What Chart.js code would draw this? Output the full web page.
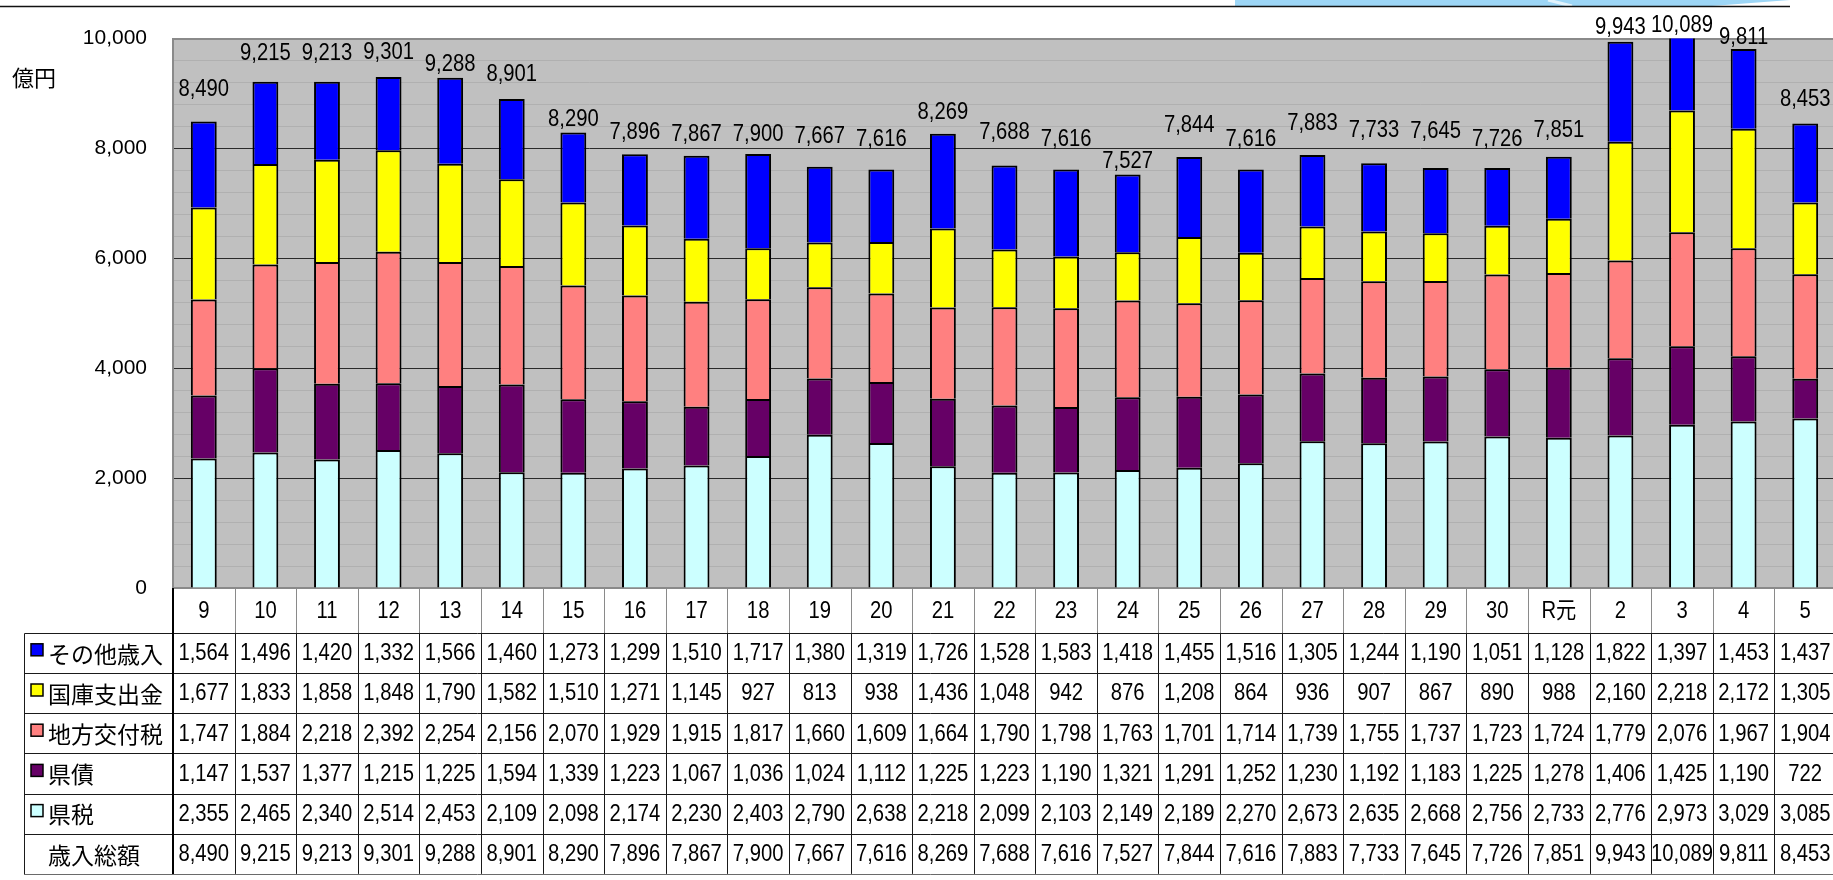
<!DOCTYPE html>
<html lang="ja">
<head>
<meta charset="utf-8">
<title>歳入の推移</title>
<script src="https://cdn.jsdelivr.net/npm/chart.js@4.4.1/dist/chart.umd.min.js"></script>
<style>
  html, body { margin: 0; padding: 0; background: #fff; overflow: hidden; width: 1833px; height: 880px; }
  canvas { display: block; }
</style>
</head>
<body>
<canvas id="revenueChart" width="1836" height="880"></canvas>
<script>
// 年度
const categories = ['9', '10', '11', '12', '13', '14', '15', '16', '17', '18', '19', '20', '21', '22',
  '23', '24', '25', '26', '27', '28', '29', '30', 'R元', '2', '3', '4', '5'];

// 歳入の内訳（億円）
const otherRevenue = [1564, 1496, 1420, 1332, 1566, 1460, 1273, 1299, 1510, 1717, 1380, 1319, 1726, 1528,
  1583, 1418, 1455, 1516, 1305, 1244, 1190, 1051, 1128, 1822, 1397, 1453, 1437];
const treasuryGrants = [1677, 1833, 1858, 1848, 1790, 1582, 1510, 1271, 1145, 927, 813, 938, 1436, 1048,
  942, 876, 1208, 864, 936, 907, 867, 890, 988, 2160, 2218, 2172, 1305];
const localAllocationTax = [1747, 1884, 2218, 2392, 2254, 2156, 2070, 1929, 1915, 1817, 1660, 1609, 1664, 1790,
  1798, 1763, 1701, 1714, 1739, 1755, 1737, 1723, 1724, 1779, 2076, 1967, 1904];
const prefBonds = [1147, 1537, 1377, 1215, 1225, 1594, 1339, 1223, 1067, 1036, 1024, 1112, 1225, 1223,
  1190, 1321, 1291, 1252, 1230, 1192, 1183, 1225, 1278, 1406, 1425, 1190, 722];
const prefTax = [2355, 2465, 2340, 2514, 2453, 2109, 2098, 2174, 2230, 2403, 2790, 2638, 2218, 2099,
  2103, 2149, 2189, 2270, 2673, 2635, 2668, 2756, 2733, 2776, 2973, 3029, 3085];
const totalRevenue = [8490, 9215, 9213, 9301, 9288, 8901, 8290, 7896, 7867, 7900, 7667, 7616, 8269, 7688,
  7616, 7527, 7844, 7616, 7883, 7733, 7645, 7726, 7851, 9943, 10089, 9811, 8453];

// 縦軸
const yMax = 10000;
const yMajorStep = 2000;
const yMinorStep = 400;
const yUnit = '億円';

// 総額ラベルを棒の上へ持ち上げる量（px）
const totalLabelLift = [32, 28, 28, 24, 13, 24, 13, 21.5, 21, 19, 30, 29.5, 21, 32.7, 29.5, 13.3, 31.8,
  29.5, 31, 32, 36, 24, 26.5, 14, 8, 11, 24];

const fmt = v => v.toLocaleString('en-US');
const NUM_FONT = '23px "Liberation Sans", "Noto Sans CJK JP", sans-serif';
const JP_FONT = '23px "Noto Sans CJK JP", sans-serif';

// 縦長の数字を描くための横圧縮テキスト
function narrowText(ctx, text, x, y, align) {
  ctx.save();
  ctx.translate(x, y);
  ctx.scale(0.88, 1);
  ctx.textAlign = align || 'center';
  ctx.textBaseline = 'middle';
  ctx.fillText(text, 0, 0);
  ctx.restore();
}

// 表の行（上から）
const tableRows = [
  { name: 'その他歳入', values: otherRevenue, color: '#0000FF' },
  { name: '国庫支出金', values: treasuryGrants, color: '#FFFF00' },
  { name: '地方交付税', values: localAllocationTax, color: '#FF8080' },
  { name: '県債', values: prefBonds, color: '#660066' },
  { name: '県税', values: prefTax, color: '#CCFFFF' },
  { name: '歳入総額', values: totalRevenue, color: null }
];

const pageBackground = {
  id: 'pageBackground',
  beforeDraw(chart) {
    const { ctx, chartArea: a } = chart;
    ctx.save();
    ctx.fillStyle = '#ffffff';
    ctx.fillRect(0, 0, chart.width, chart.height);
    // 上部の飾り帯
    ctx.fillStyle = '#9dd6f6';
    ctx.beginPath();
    ctx.moveTo(1235, 0);
    ctx.lineTo(1790, 0);
    ctx.lineTo(1712, 6);
    ctx.lineTo(1235, 6);
    ctx.closePath();
    ctx.fill();
    ctx.strokeStyle = 'rgba(255,255,255,0.7)';
    ctx.lineWidth = 3;
    ctx.beginPath();
    ctx.moveTo(1548, 0);
    ctx.lineTo(1572, 6);
    ctx.stroke();
    ctx.strokeStyle = '#111';
    ctx.lineWidth = 1.5;
    ctx.beginPath();
    ctx.moveTo(0, 6.5);
    ctx.lineTo(1790, 6.5);
    ctx.stroke();
    // 描画領域の背景
    ctx.fillStyle = '#c0c0c0';
    ctx.fillRect(a.left, a.top, a.right - a.left, a.bottom - a.top);
    // 単位
    ctx.fillStyle = '#000';
    ctx.font = '22px "Noto Sans CJK JP", sans-serif';
    ctx.textAlign = 'left';
    ctx.textBaseline = 'middle';
    ctx.fillText(yUnit, 12, 78);
    ctx.restore();
  }
};

const totalLabels = {
  id: 'totalLabels',
  afterDatasetsDraw(chart) {
    const { ctx } = chart;
    const xs = chart.scales.x, ys = chart.scales.y;
    ctx.save();
    ctx.fillStyle = '#000';
    ctx.font = NUM_FONT;
    totalRevenue.forEach((v, i) => {
      const x = xs.getPixelForValue(i);
      const y = ys.getPixelForValue(v) - totalLabelLift[i];
      narrowText(ctx, fmt(v), x, y, 'center');
    });
    ctx.restore();
  }
};

const dataTable = {
  id: 'dataTable',
  afterDraw(chart) {
    const { ctx, chartArea: a } = chart;
    const n = categories.length;
    const w = (a.right - a.left) / n;
    const headTop = a.bottom;
    const headBottom = 632.7;
    const rowH = 40.2;
    const tableLeft = 24.5;
    const tableBottom = headBottom + rowH * tableRows.length;
    const px = v => Math.round(v) + 0.5;

    ctx.save();
    // 年度の行
    ctx.strokeStyle = '#8a8a8a';
    ctx.lineWidth = 1;
    for (let i = 1; i <= n; i++) {
      const x = px(a.left + i * w);
      ctx.beginPath();
      ctx.moveTo(x, headTop);
      ctx.lineTo(x, headBottom);
      ctx.stroke();
    }
    // 数値の行の縦線
    ctx.strokeStyle = '#1a1a1a';
    for (let i = 1; i <= n; i++) {
      const x = px(a.left + i * w);
      ctx.beginPath();
      ctx.moveTo(x, headBottom);
      ctx.lineTo(x, tableBottom);
      ctx.stroke();
    }
    // 横線
    for (let r = 0; r <= tableRows.length; r++) {
      const y = px(headBottom + r * rowH);
      ctx.strokeStyle = r === tableRows.length ? '#6a6a6a' : '#1a1a1a';
      ctx.beginPath();
      ctx.moveTo(tableLeft, y);
      ctx.lineTo(chart.width, y);
      ctx.stroke();
    }
    // 左端の枠
    ctx.strokeStyle = '#1a1a1a';
    ctx.beginPath();
    ctx.moveTo(tableLeft, px(headBottom));
    ctx.lineTo(tableLeft, px(tableBottom));
    ctx.stroke();
    // 見出し列と数値列の境界
    ctx.strokeStyle = '#000';
    ctx.lineWidth = 2;
    ctx.beginPath();
    ctx.moveTo(a.left, headTop);
    ctx.lineTo(a.left, tableBottom);
    ctx.stroke();

    // 年度
    ctx.fillStyle = '#000';
    ctx.font = NUM_FONT;
    categories.forEach((c, i) => {
      narrowText(ctx, c, chart.scales.x.getPixelForValue(i), (headTop + headBottom) / 2 + 1, 'center');
    });

    // 各行
    tableRows.forEach((row, r) => {
      const cy = headBottom + r * rowH + rowH / 2;
      if (row.color) {
        ctx.fillStyle = row.color;
        ctx.fillRect(31, cy - 9, 12, 12);
        ctx.strokeStyle = '#000';
        ctx.lineWidth = 1.5;
        ctx.strokeRect(31, cy - 9, 12, 12);
      }
      ctx.fillStyle = '#000';
      ctx.font = JP_FONT;
      ctx.textAlign = 'left';
      ctx.textBaseline = 'middle';
      ctx.fillText(row.name, 48, cy + 1);
      ctx.font = NUM_FONT;
      row.values.forEach((v, i) => {
        narrowText(ctx, fmt(v), chart.scales.x.getPixelForValue(i), cy + 1, 'center');
      });
    });
    ctx.restore();
  }
};

const barStyle = { borderColor: '#000', borderWidth: 2, barPercentage: 0.42, categoryPercentage: 1 };

new Chart(document.getElementById('revenueChart'), {
  type: 'bar',
  data: {
    labels: categories,
    datasets: [
      { label: '県税', data: prefTax, backgroundColor: '#CCFFFF', ...barStyle },
      { label: '県債', data: prefBonds, backgroundColor: '#660066', ...barStyle },
      { label: '地方交付税', data: localAllocationTax, backgroundColor: '#FF8080', ...barStyle },
      { label: '国庫支出金', data: treasuryGrants, backgroundColor: '#FFFF00', ...barStyle },
      { label: 'その他歳入', data: otherRevenue, backgroundColor: '#0000FF', ...barStyle }
    ]
  },
  options: {
    responsive: false,
    animation: false,
    devicePixelRatio: 1,
    layout: { padding: { top: 36, left: 0, right: 0, bottom: 0 } },
    plugins: {
      legend: { display: false },
      tooltip: { enabled: false }
    },
    scales: {
      x: {
        stacked: true,
        grid: { display: false },
        ticks: { display: false },
        border: { display: true, color: '#8a8a8a', width: 2 },
        afterFit(scale) { scale.height = 292; }
      },
      y: {
        stacked: true,
        min: 0,
        max: yMax,
        afterFit(scale) { scale.width = 173; },
        border: { display: true, color: '#8a8a8a', width: 2 },
        grid: {
          drawTicks: false,
          color: ctx => {
            const v = ctx.tick.value;
            if (v === yMax || v === 0) return '#8a8a8a';
            return v % yMajorStep === 0 ? '#2a2a2a' : '#b0b0b0';
          },
          lineWidth: ctx => (ctx.tick.value === yMax ? 2 : 1)
        },
        ticks: {
          stepSize: yMinorStep,
          autoSkip: false,
          padding: 26,
          color: '#000',
          font: { family: '"Liberation Sans", sans-serif', size: 21 },
          callback: v => (v % yMajorStep === 0 ? fmt(v) : '')
        }
      }
    }
  },
  plugins: [pageBackground, totalLabels, dataTable]
});
</script>
</body>
</html>
